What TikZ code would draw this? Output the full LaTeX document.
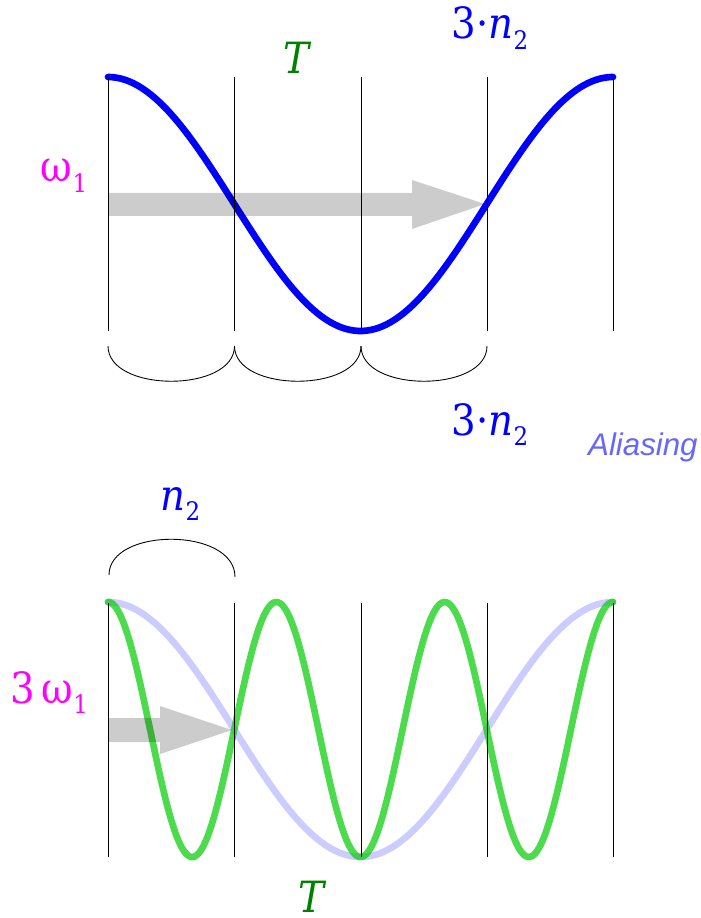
\documentclass[tikz,border=0pt]{standalone}
\usepackage{fontspec}
\setmainfont{DejaVu Serif Condensed}
\setsansfont{Liberation Sans}
\definecolor{magentaL}{RGB}{255,0,255}
\definecolor{greenT}{RGB}{0,128,0}
\definecolor{aliasblue}{RGB}{102,102,255}
\definecolor{curvegreen}{RGB}{0,204,0}
\newcommand\lowsub[1]{\raisebox{-0.24em}{\fontsize{14.5}{14.5}\selectfont #1}}
\tikzset{
  grid/.style={black, line width=0.5pt},
  brace/.style={black, line width=0.5pt},
  wave/.style={line width=3.8pt, line cap=round, line join=round},
  grayarrow/.style={fill=black, fill opacity=0.2, draw=none},
  lbl/.style={inner sep=0pt, anchor=base, font=\fontsize{24.5}{24.5}\selectfont}
}
\begin{document}
\begin{tikzpicture}[x=0.02cm, y=-0.02cm]
\useasboundingbox (0,0) rectangle (700,918);
% ---------- top panel ----------
\draw[wave, blue] plot[domain=108:613, samples=120, smooth] (\x, {204 - 127*cos(0.712871*(\x-108))});
\foreach \xx/\nm in {108/a, 234.5/b, 361/c, 487/d, 613/e}{
  \draw[grid] (\xx,77) coordinate (t\nm) -- (\xx,331) coordinate (tb\nm);
}
\fill[grayarrow] (108,193) -- (412,193) -- (412,180) -- (485,204) -- (412,229) -- (412,216) -- (108,216) -- cycle;
% braces
\draw[brace] (108,346) .. controls (108,393) and (234.5,393) .. (234.5,346);
\draw[brace] (234.5,346) .. controls (234.5,393) and (361,393) .. (361,346);
\draw[brace] (361,346) .. controls (361,393) and (487,393) .. (487,346);
% labels
\node[lbl, text=greenT] (Ttop) at (298,74) {\textit{T}};
\node[lbl, text=blue] (ntop) at (490,39) {3·\textit{n}\lowsub{2}};
\node[lbl, text=magentaL] (w1) at (64,182) {ω\lowsub{1}};
\node[lbl, text=blue] (nmid) at (490,435) {3·\textit{n}\lowsub{2}};
\node[inner sep=0pt, anchor=base east, text=aliasblue, font=\sffamily\itshape\fontsize{17.8}{17.8}\selectfont] (alias) at (698,455) {Aliasing};
% ---------- bottom panel ----------
\draw[brace] (109,575) .. controls (109,527) and (235,527) .. (235,577);
\node[lbl, text=blue] (nbot) at (180.5,510) {\textit{n}\lowsub{2}};
\draw[wave, blue, draw opacity=0.2] plot[domain=108:613, samples=120, smooth] (\x, {729.5 - 127.5*cos(0.712871*(\x-108))});
\draw[wave, curvegreen, draw opacity=0.7] plot[domain=108:613, samples=240, smooth] (\x, {729.5 - 127.5*cos(2.138614*(\x-108))});
\foreach \xx/\nm in {108/a, 234.5/b, 361/c, 487/d, 613/e}{
  \draw[grid] (\xx,603) coordinate (u\nm) -- (\xx,857) coordinate (ub\nm);
}
\fill[grayarrow] (108,718) -- (160,718) -- (160,706) -- (232,730) -- (160,754) -- (160,742) -- (108,742) -- cycle;
\node[lbl, text=magentaL] (w3) at (49,703) {3\,ω\lowsub{1}};
\node[lbl, text=greenT] (Tbot) at (313,912) {\textit{T}};
\end{tikzpicture}
\end{document}
